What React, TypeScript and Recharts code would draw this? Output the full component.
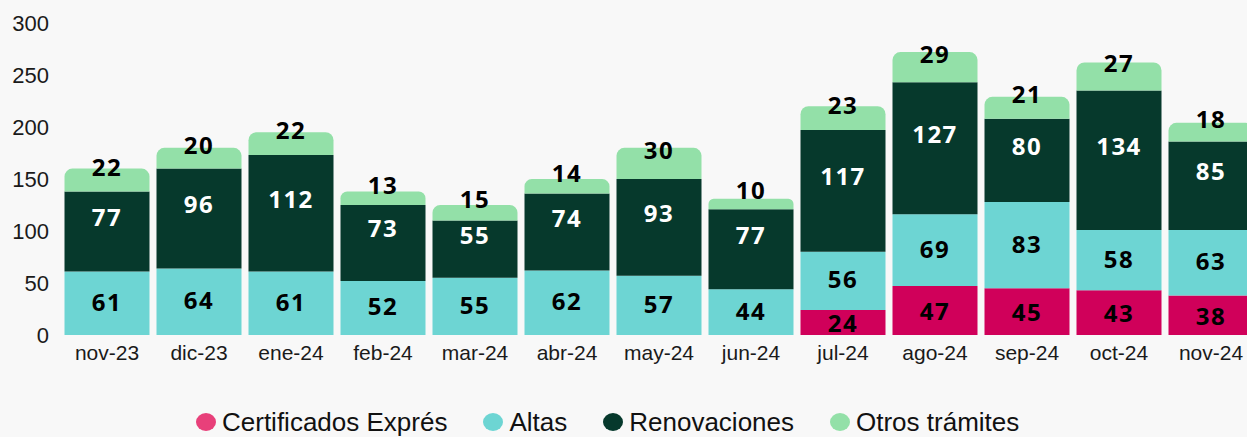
import React from 'react';
import { BarChart, Bar, XAxis, YAxis, LabelList, Legend } from 'recharts';

const months = ['nov-23', 'dic-23', 'ene-24', 'feb-24', 'mar-24', 'abr-24', 'may-24', 'jun-24', 'jul-24', 'ago-24', 'sep-24', 'oct-24', 'nov-24'];
const certificados = [0, 0, 0, 0, 0, 0, 0, 0, 24, 47, 45, 43, 38];
const altas = [61, 64, 61, 52, 55, 62, 57, 44, 56, 69, 83, 58, 63];
const renovaciones = [77, 96, 112, 73, 55, 74, 93, 77, 117, 127, 80, 134, 85];
const otros = [22, 20, 22, 13, 15, 14, 30, 10, 23, 29, 21, 27, 18];
const yTicks = [0, 50, 100, 150, 200, 250, 300];

const seriesKeys = ['cert', 'altas', 'renov', 'otros'];
const seriesNames = ['Certificados Exprés', 'Altas', 'Renovaciones', 'Otros trámites'];
const barColors = ['#d0005a', '#6dd5d3', '#06392c', '#93e0a8'];
const legendColors = ['#e8407a', '#6dd5d3', '#06392c', '#93e0a8'];
const labelColors = ['#000000', '#000000', '#ffffff', '#000000'];
const labelShift = [0, -2, -15, -14];

const data = months.map((m, i) => ({
  month: m,
  cert: certificados[i],
  altas: altas[i],
  renov: renovaciones[i],
  otros: otros[i],
}));

const labelFont = '"Noto Sans", "Open Sans", Arial, sans-serif';
const tickFont = '"Liberation Sans", Arial, sans-serif';

const makeLabel = (color: string, shift: number) => (props: any) => {
  const { x, y, width, height, value } = props;
  if (!value) return null;
  return (
    <text
      x={Number(x) + Number(width) / 2}
      y={Number(y) + Number(height) / 2 + shift}
      fill={color}
      textAnchor="middle"
      dominantBaseline="central"
      fontFamily={labelFont}
      fontSize={24}
      fontWeight={700}
      letterSpacing={1.5}
    >
      {value}
    </text>
  );
};

const LegendContent = () => (
  <div
    style={{
      height: 40,
      display: 'flex',
      alignItems: 'flex-start',
      paddingLeft: 196,
      paddingTop: 12,
      boxSizing: 'border-box',
      gap: 36,
    }}
  >
    {seriesNames.map((n, i) => (
      <div key={n} style={{ display: 'flex', alignItems: 'flex-start', gap: 6 }}>
        <span
          style={{
            display: 'inline-block',
            width: 20,
            height: 18,
            borderRadius: '50%',
            background: legendColors[i],
            marginTop: 4,
          }}
        />
        <span
          style={{
            fontFamily: '"Liberation Sans", Arial, sans-serif',
            fontSize: 26,
            lineHeight: '26px',
            color: '#111',
            whiteSpace: 'nowrap',
          }}
        >
          {n}
        </span>
      </div>
    ))}
  </div>
);

export default function App() {
  return (
    <div
      style={{
        position: 'absolute',
        left: 0,
        top: 0,
        width: 1247,
        height: 437,
        overflow: 'hidden',
        background: '#f8f8f8',
      }}
    >
      <BarChart
        width={1257}
        height={437}
        data={data}
        margin={{ top: 23, right: 0, bottom: 0, left: 1 }}
        barCategoryGap={3.5}
      >
        <XAxis
          dataKey="month"
          axisLine={false}
          tickLine={false}
          height={62}
          tickMargin={4}
          interval={0}
          tick={{ fontFamily: tickFont, fontSize: 21, fill: '#1a1a1a' }}
        />
        <YAxis
          width={60}
          domain={[0, 300]}
          ticks={yTicks}
          axisLine={false}
          tickLine={false}
          tickMargin={6}
          tick={{ fontFamily: tickFont, fontSize: 22, fill: '#1a1a1a' }}
        />
        <Legend
          verticalAlign="bottom"
          height={40}
          wrapperStyle={{ left: 0, width: 1257, height: 40 }}
          content={<LegendContent />}
        />
        {seriesKeys.map((k, i) => (
          <Bar
            key={k}
            dataKey={k}
            name={seriesNames[i]}
            stackId="a"
            fill={barColors[i]}
            isAnimationActive={false}
            radius={i === 3 ? [8, 8, 0, 0] : 0}
          >
            <LabelList dataKey={k} content={makeLabel(labelColors[i], labelShift[i])} />
          </Bar>
        ))}
      </BarChart>
    </div>
  );
}
